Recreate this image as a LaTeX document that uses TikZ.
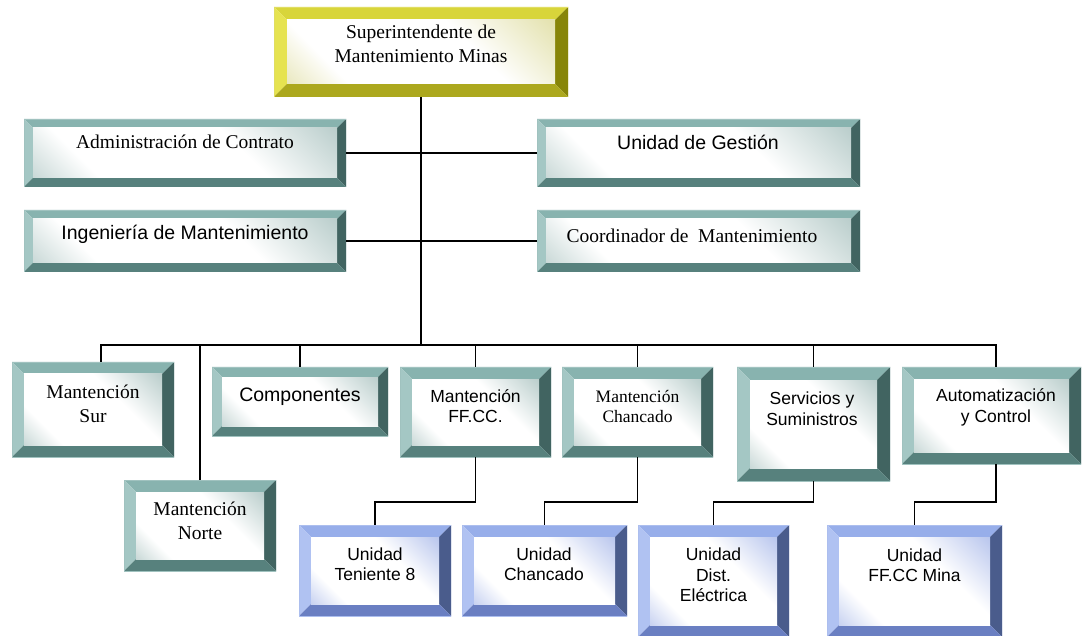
\documentclass[tikz,border=0pt]{standalone}
\usepackage{fontspec}
\setmainfont{Liberation Serif}
\setsansfont{Liberation Sans}
\usetikzlibrary{calc,positioning}

\definecolor{vdT}{HTML}{88B3AF}
\definecolor{vdL}{HTML}{A4C7C4}
\definecolor{vdR}{HTML}{416461}
\definecolor{vdB}{HTML}{57817D}
\definecolor{vdC}{HTML}{8FAFAC}
\definecolor{amT}{HTML}{D8D53A}
\definecolor{amL}{HTML}{E6E350}
\definecolor{amR}{HTML}{878508}
\definecolor{amB}{HTML}{ACA81E}
\definecolor{amC}{HTML}{D2CF7A}
\definecolor{azT}{HTML}{97AEEA}
\definecolor{azL}{HTML}{B0C2F2}
\definecolor{azR}{HTML}{4A5C8C}
\definecolor{azB}{HTML}{6A7FC2}
\definecolor{azC}{HTML}{8DA2E2}

\pgfdeclareverticalshading{brilloVd}{100bp}{color(0bp)=(vdC); color(28bp)=(white); color(62bp)=(white); color(100bp)=(vdC)}
\pgfdeclareverticalshading{brilloAm}{100bp}{color(0bp)=(amC); color(28bp)=(white); color(62bp)=(white); color(100bp)=(amC)}
\pgfdeclareverticalshading{brilloAz}{100bp}{color(0bp)=(azC); color(28bp)=(white); color(62bp)=(white); color(100bp)=(azC)}

\newcommand\romG{\rmfamily\fontsize{19.5}{24.5}\selectfont}
\newcommand\romM{\rmfamily\fontsize{17.5}{19.5}\selectfont}
\newcommand\sanG{\sffamily\fontsize{19.5}{23}\selectfont}
\newcommand\sanM{\sffamily\fontsize{17.5}{20.5}\selectfont}

\tikzset{
    bevel/.store in=\bv, bevel=9pt,
    verde/.code={\colorlet{cT}{vdT}\colorlet{cL}{vdL}\colorlet{cR}{vdR}\colorlet{cB}{vdB}\def\brillo{brilloVd}},
    amarillo/.code={\colorlet{cT}{amT}\colorlet{cL}{amL}\colorlet{cR}{amR}\colorlet{cB}{amB}\def\brillo{brilloAm}},
    azul/.code={\colorlet{cT}{azT}\colorlet{cL}{azL}\colorlet{cR}{azR}\colorlet{cB}{azB}\def\brillo{brilloAz}},
    caja/.style={rectangle, inner sep=0pt, outer sep=0pt,
        path picture={
            \coordinate (sw) at (path picture bounding box.south west);
            \coordinate (ne) at (path picture bounding box.north east);
            \coordinate (nw) at (sw |- ne);
            \coordinate (se) at (ne |- sw);
            \fill[cT] (nw) -- (ne) -- ([shift={(-\bv,-\bv)}]ne) -- ([shift={(\bv,-\bv)}]nw) -- cycle;
            \fill[cL] (nw) -- (sw) -- ([shift={(\bv,\bv)}]sw) -- ([shift={(\bv,-\bv)}]nw) -- cycle;
            \fill[cR] (ne) -- (se) -- ([shift={(-\bv,\bv)}]se) -- ([shift={(-\bv,-\bv)}]ne) -- cycle;
            \fill[cB] (sw) -- (se) -- ([shift={(-\bv,\bv)}]se) -- ([shift={(\bv,\bv)}]sw) -- cycle;
            \shade[shading=\brillo, shading angle=-45]
                ([shift={(\bv,\bv)}]sw) rectangle ([shift={(-\bv,-\bv)}]ne);
            \draw[cT!80!white, line width=0.8pt] (sw) rectangle (ne);
        }},
    texto/.style={inner sep=0pt, align=center, text=black},
    linea/.style={line width=1.8pt},
}

\begin{document}
\begin{tikzpicture}[x=1pt, y=-1pt]
    \useasboundingbox (0,0) rectangle (1082,636);

    % cajas
    \node[caja, amarillo, bevel=13pt, minimum width=294pt, minimum height=90pt] (super) at (421,52) {};
    \node[caja, verde, minimum width=322pt, minimum height=68pt] (admin) at (185,153) {};
    \node[caja, verde, minimum width=323pt, minimum height=68pt] (gestion) at (698.5,153) {};
    \node[caja, verde, minimum width=322pt, minimum height=62pt] (ing) at (185,241) {};
    \node[caja, verde, minimum width=323pt, minimum height=62pt] (coord) at (698.5,241) {};

    \node[caja, verde, bevel=12pt, minimum width=162pt, minimum height=95pt] (sur) at (93,409.5) {};
    \node[caja, verde, bevel=10pt, minimum width=176pt, minimum height=69pt] (comp) at (300,401.5) {};
    \node[caja, verde, bevel=12pt, minimum width=151pt, minimum height=90pt] (ffcc) at (475.5,412) {};
    \node[caja, verde, bevel=12pt, minimum width=151pt, minimum height=90pt] (mchan) at (637.5,412) {};
    \node[caja, verde, bevel=13pt, minimum width=153pt, minimum height=114pt] (serv) at (813.5,424) {};
    \node[caja, verde, bevel=12pt, minimum width=179pt, minimum height=97pt] (auto) at (991.5,415.5) {};
    \node[caja, verde, bevel=12pt, minimum width=152pt, minimum height=91pt] (norte) at (200,525.5) {};

    \node[caja, azul, bevel=12pt, minimum width=152pt, minimum height=91pt] (uten) at (375,570.5) {};
    \node[caja, azul, bevel=12pt, minimum width=165pt, minimum height=91pt] (uchan) at (544.5,570.5) {};
    \node[caja, azul, bevel=12pt, minimum width=151pt, minimum height=112pt] (udist) at (713.5,581) {};
    \node[caja, azul, bevel=12pt, minimum width=175pt, minimum height=112pt] (umina) at (914.5,581) {};

    % textos
    \node[texto, font=\romG] (super-t) at (421,44) {Superintendente de\\Mantenimiento Minas};
    \node[texto, font=\romG, anchor=base] (admin-t) at (185,149) {Administración de Contrato};
    \node[texto, font=\sanG, anchor=base] (gestion-t) at (698,150) {Unidad de Gestión};
    \node[texto, font=\sanG, anchor=base] (ing-t) at (185,240) {Ingeniería de Mantenimiento};
    \node[texto, font=\romG, anchor=base] (coord-t) at (692,243) {Coordinador de~ Mantenimiento};
    \node[texto, font=\romG] (sur-t) at (93,404) {Mantención\\Sur};
    \node[texto, font=\romG] (norte-t) at (200,521) {Mantención\\Norte};
    \node[texto, font=\sanG, anchor=base] (comp-t) at (300,402) {Componentes};
    \node[texto, font=\sanM] (ffcc-t) at (475.5,406) {Mantención\\FF.CC.};
    \node[texto, font=\romM] (mchan-t) at (637.5,406.5) {Mantención\\Chancado};
    \node[texto, font=\sanM] (serv-t) at (812,408.5) {Servicios y\\Suministros};
    \node[texto, font=\sanM] (auto-t) at (996,407.5) {Automatización\\y Control};
    \node[texto, font=\sanM] (uten-t) at (375,564) {Unidad\\Teniente 8};
    \node[texto, font=\sanM] (uchan-t) at (544,564) {Unidad\\Chancado};
    \node[texto, font=\sanM] (udist-t) at (713.5,575) {Unidad\\Dist.\\Eléctrica};
    \node[texto, font=\sanM] (umina-t) at (914.5,565) {Unidad\\FF.CC Mina};

    % conectores
    \coordinate (bus) at (421,345);
    \coordinate (codo) at (0,502);
    \draw[line width=2.8pt] (super) -- (super |- bus);
    \draw[linea] (admin) -- (gestion);
    \draw[linea] (ing) -- (coord);
    \draw[linea] ([xshift=8pt]sur.north) -- ([xshift=8pt]sur.north |- bus)
        -- ([xshift=4.5pt]auto.north |- bus) -- ([xshift=4.5pt]auto.north);
    \foreach \n in {norte,comp,ffcc,mchan,serv}
        \draw[linea] (\n.north) -- (\n.north |- bus);
    \draw[linea] (ffcc.south) -- (ffcc.south |- codo) -| (uten.north);
    \draw[linea] (mchan.south) -- (mchan.south |- codo) -| (uchan.north);
    \draw[linea] (serv.south) -- (serv.south |- codo) -| (udist.north);
    \draw[linea] ([xshift=4.5pt]auto.south) -- ([xshift=4.5pt]auto.south |- codo) -| (umina.north);
\end{tikzpicture}
\end{document}
